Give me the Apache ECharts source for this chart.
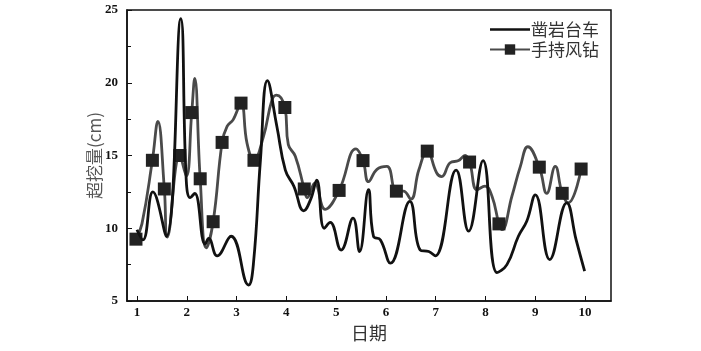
<!DOCTYPE html>
<html>
<head>
<meta charset="utf-8">
<script src="https://cdn.jsdelivr.net/npm/echarts@6/dist/echarts.min.js"></script>
<style>
html,body{margin:0;padding:0;background:#fff;}
#chart{width:701px;height:351px;}
</style>
</head>
<body>
<div id="chart"></div>
<script>
// 凿岩台车 (rock drilling jumbo)
var jumboX = [1.0, 1.12, 1.32, 1.59, 1.88, 1.99, 2.07, 2.16, 2.37, 2.44, 2.61, 2.89, 3.24, 3.34, 3.48, 3.62, 3.81, 3.98, 4.15, 4.35, 4.49, 4.61, 4.76, 4.88, 5.10, 5.34, 5.47, 5.65, 5.75, 5.89, 6.09, 6.48, 6.69, 6.86, 6.99, 7.41, 7.66, 7.95, 8.23, 8.43, 8.66, 8.83, 9.0, 9.29, 9.63, 9.82, 9.99];
var jumboY = [9.9, 9.2, 12.5, 9.45, 24.4, 13.3, 12.1, 12.4, 8.9, 9.3, 8.1, 9.45, 6.1, 7.6, 14.7, 20.15, 17.0, 14.0, 12.9, 11.2, 12.0, 13.3, 10.0, 10.4, 8.5, 10.7, 8.4, 12.65, 9.45, 9.2, 7.6, 11.85, 8.5, 8.4, 8.1, 14.0, 9.8, 14.65, 6.95, 7.5, 9.45, 10.5, 12.3, 7.85, 11.75, 9.2, 7.05];

// 手持风钻 (hand-held pneumatic drill)
var handX = [0.98, 1.1, 1.31, 1.42, 1.55, 1.61, 1.86, 1.99, 2.10, 2.16, 2.27, 2.39, 2.53, 2.71, 2.81, 2.93, 3.09, 3.21, 3.35, 3.54, 3.71, 3.80, 3.97, 4.04, 4.18, 4.36, 4.42, 4.57, 4.78, 5.06, 5.40, 5.54, 5.65, 5.82, 6.02, 6.21, 6.35, 6.50, 6.66, 6.83, 7.02, 7.12, 7.29, 7.46, 7.59, 7.68, 7.83, 7.99, 8.13, 8.27, 8.33, 8.53, 8.70, 8.85, 9.08, 9.23, 9.40, 9.54, 9.66, 9.92];
var handY = [9.25, 10.3, 14.67, 17.35, 12.7, 9.4, 15.0, 13.6, 17.95, 20.3, 13.4, 8.65, 10.45, 15.9, 17.0, 17.45, 18.6, 15.85, 14.67, 16.3, 18.8, 19.15, 18.3, 15.75, 14.95, 12.7, 12.1, 13.1, 11.3, 12.6, 15.45, 14.65, 13.2, 14.05, 14.25, 12.55, 12.55, 12.0, 14.0, 15.3, 13.8, 13.55, 14.5, 14.65, 15.0, 14.55, 12.65, 12.9, 12.2, 10.3, 9.9, 12.2, 14.25, 15.6, 14.2, 12.4, 14.25, 12.4, 11.75, 14.07];
var handMarked = [1, 0, 1, 0, 1, 0, 1, 0, 1, 0, 1, 0, 1, 1, 0, 0, 1, 0, 1, 0, 0, 0, 1, 0, 0, 1, 0, 0, 0, 1, 0, 1, 0, 0, 0, 1, 0, 0, 0, 1, 0, 0, 0, 0, 0, 1, 0, 0, 0, 1, 0, 0, 0, 0, 1, 0, 0, 1, 0, 1];

var xTicks = [1, 2, 3, 4, 5, 6, 7, 8, 9, 10];
var yTicks = [5, 10, 15, 20, 25];
var seriesNames = ['凿岩台车', '手持风钻'];
var xName = '日期';
var yName = '超挖量(cm)';

var jumboData = jumboX.map(function (x, i) { return [x, jumboY[i]]; });
var handData = handX.map(function (x, i) {
  return handMarked[i] ? { value: [x, handY[i]] } : { value: [x, handY[i]], symbol: 'none' };
});

var chart = echarts.init(document.getElementById('chart'), null, { renderer: 'canvas' });
var tickFont = { fontFamily: 'Liberation Serif', fontWeight: 'bold', fontSize: 13, color: '#111' };
chart.setOption({
  animation: false,
  backgroundColor: '#fff',
  grid: { left: 127, right: 90, top: 10, bottom: 50, show: true, borderColor: '#111', borderWidth: 1.5, backgroundColor: 'transparent' },
  legend: {
    orient: 'vertical', right: 97, top: 16, itemGap: 3, itemWidth: 40, itemHeight: 13,
    textStyle: { fontFamily: 'Noto Sans CJK SC', fontSize: 17, color: '#333', padding: [0, 0, 0, -4] },
    data: [
      { name: seriesNames[0], icon: 'path://M0,0 L40,0 L40,2.6 L0,2.6 Z', itemStyle: { color: '#111' } },
      { name: seriesNames[1] }
    ]
  },
  xAxis: {
    type: 'value', min: 0.8, max: 10.52,
    name: xName, nameLocation: 'middle', nameGap: 22,
    nameTextStyle: { fontFamily: 'Noto Sans CJK SC', fontSize: 18, color: '#333' },
    axisLine: { lineStyle: { color: '#111', width: 1.5 } },
    axisTick: { inside: true, length: 5, lineStyle: { color: '#111' }, customValues: xTicks },
    axisLabel: Object.assign({ margin: 5, customValues: xTicks }, tickFont),
    splitLine: { show: false }
  },
  yAxis: {
    type: 'value', min: 5, max: 25, interval: 5,
    name: yName, nameLocation: 'middle', nameGap: 24, nameRotate: 90, nameMoveOverlap: false,
    nameTextStyle: { fontFamily: 'Noto Sans CJK SC', fontSize: 17, color: '#555' },
    axisLine: { show: true, lineStyle: { color: '#111', width: 1.5 } },
    axisTick: { inside: true, length: 5, lineStyle: { color: '#111' } },
    minorTick: { show: true, splitNumber: 2, length: 4, lineStyle: { color: '#111' } },
    axisLabel: Object.assign({ margin: 9 }, tickFont),
    splitLine: { show: false }
  },
  series: [
    {
      name: seriesNames[0], type: 'line', smooth: 0.45, symbol: 'none',
      lineStyle: { color: '#111', width: 2.8 }, itemStyle: { color: '#111' },
      data: jumboData, z: 3
    },
    {
      name: seriesNames[1], type: 'line', smooth: 0.45, symbol: 'rect', symbolSize: 13,
      showAllSymbol: true,
      lineStyle: { color: '#4a4a4a', width: 2.8 }, itemStyle: { color: '#222', borderWidth: 0 },
      data: handData, z: 2
    }
  ]
});
</script>
</body>
</html>
